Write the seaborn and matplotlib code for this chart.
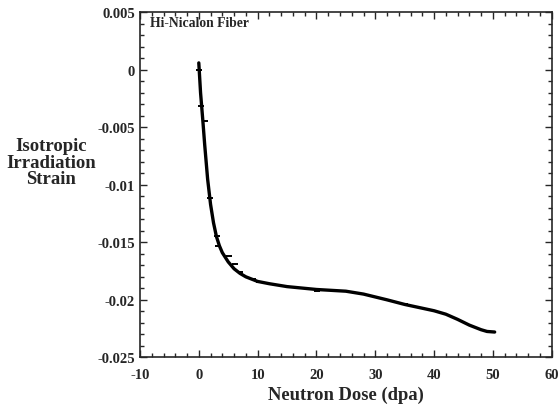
import numpy as np
import pandas as pd
import matplotlib
matplotlib.use("Agg")
import matplotlib.pyplot as plt
import seaborn as sns
from matplotlib.ticker import MultipleLocator

# fitted curve
curve_dose = [0, 0.3, 0.7, 1.0, 1.5, 2.0, 2.5, 3.0, 3.5, 4.0, 5.0, 6.0, 7.0, 8.0, 10, 12, 15,
              20, 25, 28, 30, 32, 35, 40, 42, 44, 46, 48, 49, 50.3]
curve_strain = [0.0006, -0.002, -0.0045, -0.0065, -0.0095, -0.0117, -0.0133, -0.0145,
                -0.0153, -0.0159, -0.0167, -0.0173, -0.0177, -0.01800, -0.0184, -0.0186,
                -0.01885, -0.0191, -0.01925, -0.0195, -0.01975, -0.0200, -0.0204, -0.02095,
                -0.02125, -0.0217, -0.0222, -0.0226, -0.02275, -0.0228]

# measured points (small dashes)
pt_dose = [0, 0.4, 1.07, 1.93, 3.07, 3.2, 5.05, 6.07, 7.04, 9.2, 10.2, 20.1, 35]
pt_strain = [0, -0.00315, -0.00448, -0.01117, -0.01445, -0.01535, -0.0162, -0.0169,
             -0.01758, -0.01822, -0.01842, -0.01923, -0.0204]

ytick_vals = [0.005, 0, -0.005, -0.01, -0.015, -0.02, -0.025]
ytick_labels = ["0.005", "0", "-0.005", "-0.01", "-0.015", "-0.02", "-0.025"]
xtick_vals = [-10, 0, 10, 20, 30, 40, 50, 60]
xtick_labels = ["-10", "0", "10", "20", "30", "40", "50", "60"]

sns.set_style("ticks")
plt.rcParams['font.family'] = ['Liberation Serif', 'DejaVu Serif']
plt.rcParams['font.weight'] = 'bold'

curve = pd.DataFrame({"dose": curve_dose, "strain": curve_strain})
pts = pd.DataFrame({"dose": pt_dose, "strain": pt_strain})

fig = plt.figure(figsize=(5.59, 4.10), dpi=100)
ax = fig.add_axes([0.2504, 0.126, 0.7366, 0.8416])

sns.lineplot(data=curve, x="dose", y="strain", ax=ax, color="black", linewidth=2.4, sort=False)
sns.scatterplot(data=pts, x="dose", y="strain", ax=ax, marker="_", s=25, color="black",
                linewidth=1.4)

ax.set_xlim(-10, 60)
ax.set_ylim(-0.025, 0.005)
ax.set_xticks(xtick_vals)
ax.set_xticklabels(xtick_labels)
ax.set_yticks(ytick_vals)
ax.set_yticklabels(ytick_labels)
ax.xaxis.set_minor_locator(MultipleLocator(2))
ax.yaxis.set_minor_locator(MultipleLocator(0.001))
ax.tick_params(which="both", direction="in", top=True, right=True, labelsize=10.5, width=1)
ax.tick_params(which="major", length=5)
ax.tick_params(which="minor", length=3)
ax.tick_params(axis="x", pad=8)
for lab in ax.get_xticklabels() + ax.get_yticklabels():
    lab.set_fontweight("bold")
for sp in ax.spines.values():
    sp.set_linewidth(1.2)

ax.set_xlabel("Neutron Dose (dpa)", fontsize=13.4, fontweight="bold", labelpad=3)
ax.set_ylabel("")
fig.text(0.092, 0.602, "Isotropic\nIrradiation\nStrain", ha="center", va="center",
         fontsize=13.5, fontweight="bold", linespacing=0.95)
ax.text(-8.3, 0.0041, "Hi-Nicalon Fiber", fontsize=9.8, fontweight="bold", va="center")

fig.savefig("out.png", dpi=100)
